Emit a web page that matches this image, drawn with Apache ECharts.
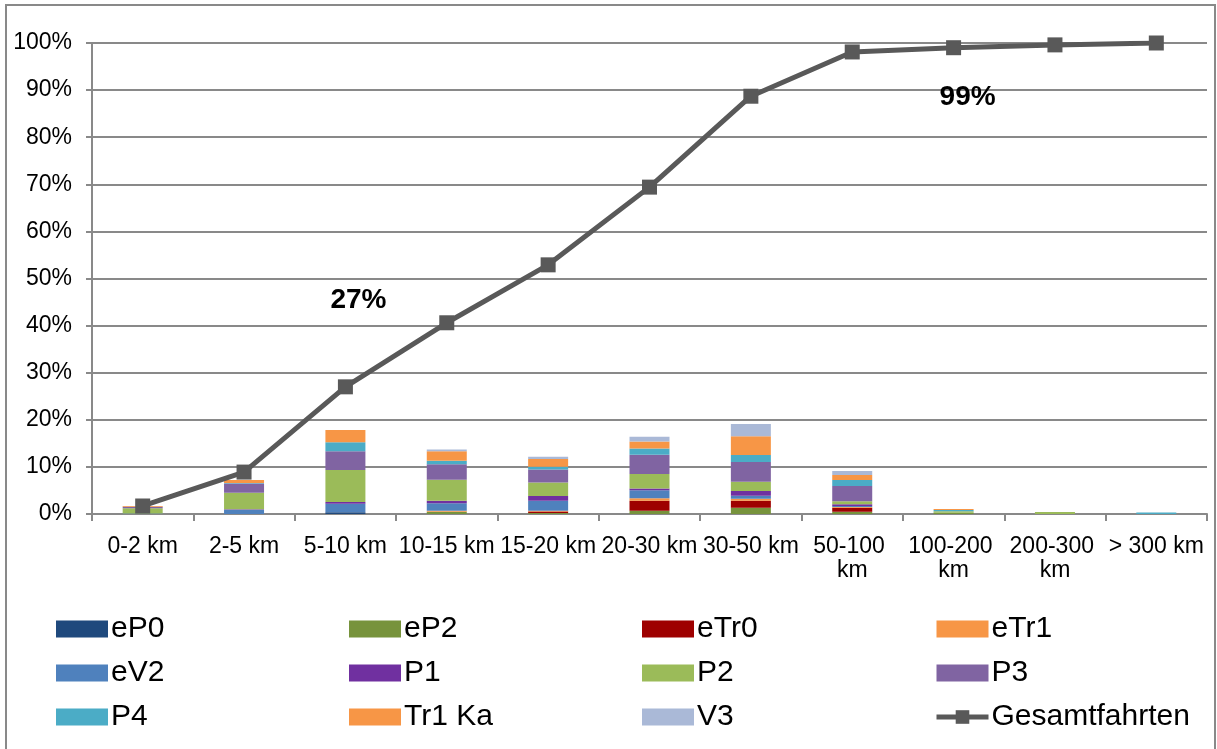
<!DOCTYPE html>
<html>
<head>
<meta charset="utf-8">
<title>Fahrten nach Entfernung</title>
<script src="https://cdn.jsdelivr.net/npm/echarts@6/dist/echarts.min.js"></script>
<style>
  html, body { margin: 0; padding: 0; background: #ffffff; }
  #chart { width: 1217px; height: 749px; }
</style>
</head>
<body>
<div id="chart"></div>
<script>
// Distance classes
const categories = ['0-2 km', '2-5 km', '5-10 km', '10-15 km', '15-20 km', '20-30 km',
  '30-50 km', '50-100 km', '100-200 km', '200-300 km', '> 300 km'];

// Share of trips per vehicle type and distance class (%)
const ePO   = [0, 0, 0.35, 0, 0, 0, 0, 0, 0, 0, 0];
const eP2   = [0, 0, 0, 0.5, 0.2, 0.7, 1.34, 0.5, 0.25, 0, 0];
const eTr0  = [0, 0, 0, 0, 0.35, 2.12, 1.49, 0.85, 0, 0, 0];
const eTr1  = [0, 0, 0, 0.2, 0.15, 0.5, 0.42, 0.15, 0, 0, 0];
const eV2   = [0.1, 0.9, 1.84, 1.56, 2.12, 1.7, 0.64, 0.2, 0, 0, 0];
const P1    = [0, 0.1, 0.35, 0.57, 0.99, 0.42, 0.99, 0.35, 0, 0, 0];
const P2    = [1.1, 3.5, 6.8, 4.46, 2.9, 3.04, 1.98, 0.64, 0.35, 0.4, 0];
const P3    = [0.35, 2.0, 4.0, 3.26, 2.76, 4.1, 4.18, 3.26, 0, 0, 0];
const P4    = [0, 0.1, 1.9, 0.78, 0.57, 1.34, 1.49, 1.27, 0.25, 0, 0.3];
const Tr1Ka = [0.15, 0.6, 2.6, 2.0, 1.63, 1.49, 3.96, 1.06, 0.2, 0.05, 0];
const V3    = [0, 0, 0, 0.35, 0.5, 0.99, 2.62, 0.85, 0, 0, 0];

// Cumulative share of all trips (%)
const gesamtfahrten = [1.7, 8.9, 27, 40.6, 52.9, 69.4, 88.7, 98.1, 99, 99.6, 100];
// Distance classes whose cumulative value is written on the chart
const labelledIdx = [2, 8];

// Y axis ticks
const yMin = 0, yMax = 100, yStep = 10;

const FONT = 'Liberation Sans, Arial, sans-serif';
const GRID_GRAY = '#898989';
const LINE_GRAY = '#595959';

const barSeries = [
  { name: 'eP0', data: ePO, color: '#1F497D' },
  { name: 'eP2', data: eP2, color: '#77933C' },
  { name: 'eTr0', data: eTr0, color: '#9E0000' },
  { name: 'eTr1', data: eTr1, color: '#F79646' },
  { name: 'eV2', data: eV2, color: '#4F81BD' },
  { name: 'P1', data: P1, color: '#7030A0' },
  { name: 'P2', data: P2, color: '#9BBB59' },
  { name: 'P3', data: P3, color: '#8064A2' },
  { name: 'P4', data: P4, color: '#4BACC6' },
  { name: 'Tr1 Ka', data: Tr1Ka, color: '#F79646' },
  { name: 'V3', data: V3, color: '#AAB9D7' }
];

// Legend laid out as four columns of three entries
const legendColumns = [
  ['eP0', 'eV2', 'P4'],
  ['eP2', 'P1', 'Tr1 Ka'],
  ['eTr0', 'P2', 'V3'],
  ['eTr1', 'P3', 'Gesamtfahrten']
];
const legendLefts = [56, 349, 642, 934];

// Offsets of the two value callouts relative to their points
const calloutOffsets = { 2: [13, -87], 8: [14, 50] };

const lineData = gesamtfahrten.map((v, i) => {
  if (labelledIdx.indexOf(i) === -1) return v;
  return {
    value: v,
    label: {
      show: true,
      position: 'inside',
      offset: calloutOffsets[i],
      formatter: (p) => Math.round(p.value) + '%',
      fontFamily: FONT,
      fontWeight: 'bold',
      fontSize: 28,
      color: '#000000'
    }
  };
});

const legendItem = (n) => (n === 'Gesamtfahrten'
  ? { name: n, lineStyle: { width: 5, color: LINE_GRAY }, itemStyle: { color: LINE_GRAY } }
  : { name: n, icon: 'rect' });

const chart = echarts.init(document.getElementById('chart'), null, { renderer: 'canvas' });

const option = {
  backgroundColor: '#ffffff',
  animation: false,
  textStyle: { fontFamily: FONT },
  graphic: [{
    type: 'rect',
    shape: { x: 6, y: 5, width: 1209, height: 760 },
    style: { fill: 'none', stroke: GRID_GRAY, lineWidth: 2 },
    silent: true,
    z: -10
  }],
  grid: { left: 92, right: 10, top: 43, bottom: 235, containLabel: false },
  legend: legendColumns.map((col, c) => ({
    data: col.map(legendItem),
    orient: 'vertical',
    left: legendLefts[c],
    top: 614,
    itemWidth: 52,
    itemHeight: 17,
    itemGap: 14,
    padding: 0,
    selectedMode: false,
    textStyle: {
      fontFamily: FONT,
      fontSize: 30,
      color: '#000000',
      lineHeight: 30,
      padding: [0, 0, 0, -2]
    }
  })),
  xAxis: {
    type: 'category',
    data: categories,
    axisLine: { show: true, lineStyle: { color: GRID_GRAY, width: 2 } },
    axisTick: { show: true, length: 7, lineStyle: { color: GRID_GRAY, width: 2 } },
    axisLabel: {
      interval: 0,
      margin: 21,
      fontFamily: FONT,
      fontSize: 23,
      color: '#000000',
      width: 100,
      overflow: 'break',
      lineHeight: 24
    }
  },
  yAxis: {
    type: 'value',
    min: yMin,
    max: yMax,
    interval: yStep,
    axisLine: { show: true, lineStyle: { color: GRID_GRAY, width: 2 } },
    axisTick: { show: true, length: 6, lineStyle: { color: GRID_GRAY, width: 2 } },
    splitLine: { show: true, lineStyle: { color: GRID_GRAY, width: 2 } },
    axisLabel: {
      formatter: '{value}%',
      margin: 20,
      fontFamily: FONT,
      fontSize: 23,
      color: '#000000'
    }
  },
  series: barSeries.map(s => ({
    name: s.name,
    type: 'bar',
    stack: 'fahrten',
    barWidth: 40,
    data: s.data,
    itemStyle: { color: s.color },
    emphasis: { disabled: true }
  })).concat([{
    name: 'Gesamtfahrten',
    type: 'line',
    data: lineData,
    symbol: 'rect',
    symbolSize: 15,
    color: LINE_GRAY,
    lineStyle: { color: LINE_GRAY, width: 5 },
    itemStyle: { color: LINE_GRAY },
    z: 10,
    emphasis: { disabled: true }
  }])
};

chart.setOption(option);
</script>
</body>
</html>
